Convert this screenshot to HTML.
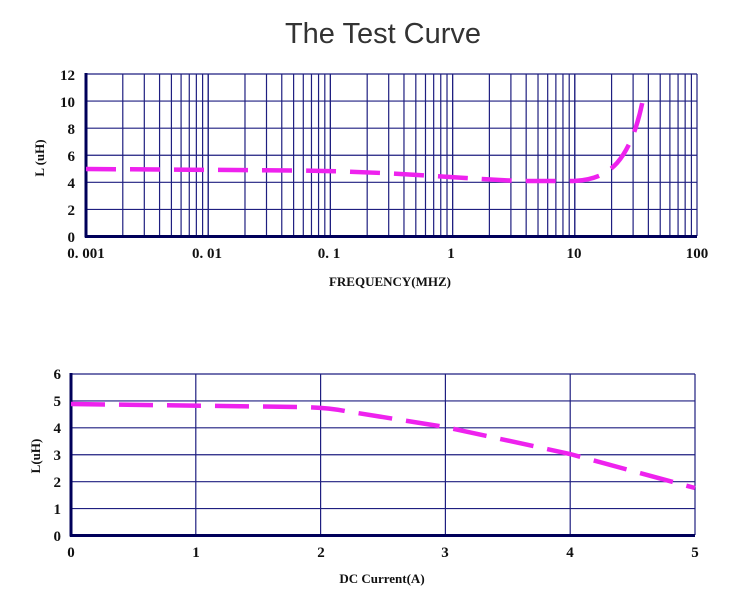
<!DOCTYPE html>
<html><head><meta charset="utf-8"><style>
html,body{margin:0;padding:0;background:#fff;width:750px;height:591px;overflow:hidden}
svg{display:block}
.t{font-family:"Liberation Serif",serif;font-size:15px;font-weight:bold;fill:#111}
</style></head><body>
<svg id="s" width="750" height="591" xmlns="http://www.w3.org/2000/svg">
<text x="383" y="43" text-anchor="middle" font-family="Liberation Sans, sans-serif" font-size="29" fill="#333">The Test Curve</text>
<g id="g1" stroke="#1f1f80" stroke-width="1.2"></g>
<g id="g2" stroke="#1f1f80" stroke-width="1.2"></g>
<line x1="86" y1="73" x2="86" y2="237.5" stroke="#00005a" stroke-width="3"/>
<line x1="85" y1="236.5" x2="697" y2="236.5" stroke="#00005a" stroke-width="3"/>
<line x1="71" y1="373" x2="71" y2="536.5" stroke="#00005a" stroke-width="3"/>
<line x1="70" y1="535.5" x2="695" y2="535.5" stroke="#00005a" stroke-width="3"/>
<path d="M86,169 L300,170.5 C400,172 450,178 520,181 L574,181 C595,180 608,173 617,163 C630,148 638,125 643,99" fill="none" stroke="#ee22ee" stroke-width="4.5" stroke-dasharray="30,14"/>
<path d="M71,404 L300,407 C320,407.5 330,408 345,411 L445,427 L570,454 L695,488" fill="none" stroke="#ee22ee" stroke-width="4.5" stroke-dasharray="34,14"/>
<g class="t">
<text x="75" y="80" text-anchor="end">12</text>
<text x="75" y="107" text-anchor="end">10</text>
<text x="75" y="134" text-anchor="end">8</text>
<text x="75" y="161" text-anchor="end">6</text>
<text x="75" y="188" text-anchor="end">4</text>
<text x="75" y="215" text-anchor="end">2</text>
<text x="75" y="242" text-anchor="end">0</text>
<text x="86" y="258" text-anchor="middle">0. 001</text>
<text x="207" y="258" text-anchor="middle">0. 01</text>
<text x="329" y="258" text-anchor="middle">0. 1</text>
<text x="451" y="258" text-anchor="middle">1</text>
<text x="574" y="258" text-anchor="middle">10</text>
<text x="697" y="258" text-anchor="middle">100</text>
<text x="390" y="286" text-anchor="middle" font-size="13">FREQUENCY(MHZ)</text>
<text transform="translate(44,158) rotate(-90)" text-anchor="middle" font-size="13">L (uH)</text>
<text x="61" y="379" text-anchor="end">6</text>
<text x="61" y="406" text-anchor="end">5</text>
<text x="61" y="433" text-anchor="end">4</text>
<text x="61" y="460" text-anchor="end">3</text>
<text x="61" y="487" text-anchor="end">2</text>
<text x="61" y="514" text-anchor="end">1</text>
<text x="61" y="541" text-anchor="end">0</text>
<text x="71" y="557" text-anchor="middle">0</text>
<text x="196" y="557" text-anchor="middle">1</text>
<text x="321" y="557" text-anchor="middle">2</text>
<text x="445" y="557" text-anchor="middle">3</text>
<text x="570" y="557" text-anchor="middle">4</text>
<text x="695" y="557" text-anchor="middle">5</text>
<text x="382" y="583" text-anchor="middle" font-size="13">DC Current(A)</text>
<text transform="translate(40,456) rotate(-90)" text-anchor="middle" font-size="13">L(uH)</text>
</g>
</svg>
<script>
var NS="http://www.w3.org/2000/svg";
function L(g,x1,y1,x2,y2){var l=document.createElementNS(NS,"line");l.setAttribute("x1",x1);l.setAttribute("y1",y1);l.setAttribute("x2",x2);l.setAttribute("y2",y2);g.appendChild(l);}
var g1=document.getElementById("g1"),g2=document.getElementById("g2");
for(var i=0;i<=6;i++){var y=74+i*(162.5/6);L(g1,86,y,697,y);}
for(var d=0;d<5;d++){for(var k=1;k<=10;k++){var x=86+(d+Math.log10(k))*122.2;L(g1,x,74,x,236);}}
for(var i=0;i<=6;i++){var y=374+i*(161.5/6);L(g2,71,y,695,y);}
for(var i=0;i<=5;i++){var x=71+i*124.8;L(g2,x,374,x,535);}
</script>
</body></html>
